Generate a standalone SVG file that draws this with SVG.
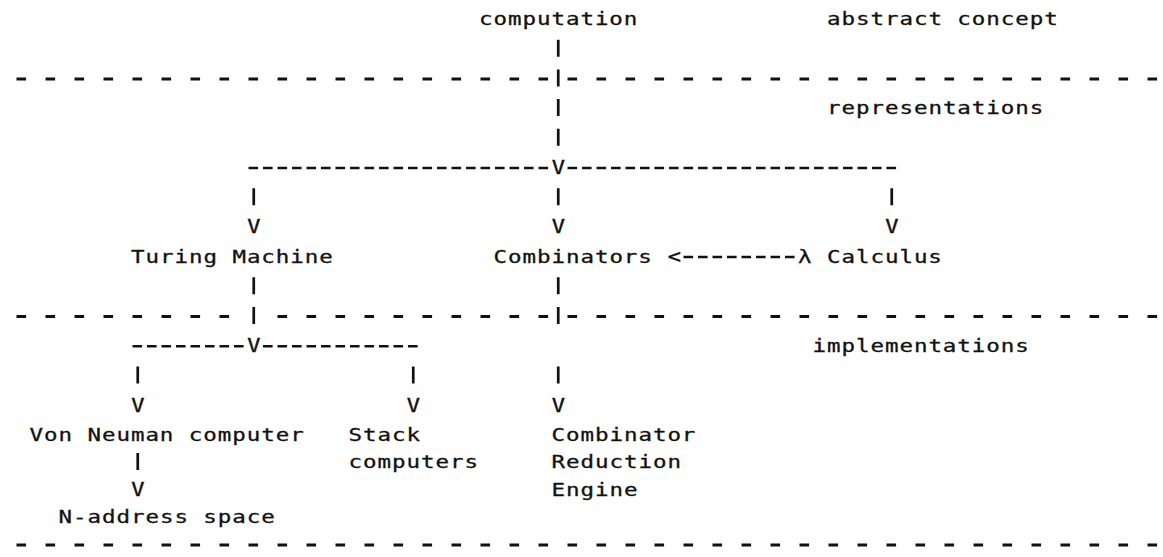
<svg xmlns="http://www.w3.org/2000/svg" width="1163" height="557" viewBox="0 0 1163 557">
  <style>
    /* 80-column printout: 14.5px per column, glyphs widened to fill the cell */
    .t { font-family: "DejaVu Sans Mono", "Liberation Mono", monospace; font-size: 18px; fill: #111; stroke: #111; stroke-width: 0.3px; letter-spacing: 0.76px; }
    .a { font-family: "DejaVu Sans Mono", "Liberation Mono", monospace; font-size: 20px; fill: #111; stroke: #111; stroke-width: 0.4px; text-anchor: middle; }
    .bar { stroke: #111; stroke-width: 2.7; fill: none; }
    .sep { stroke: #111; stroke-width: 3; stroke-dasharray: 9.6 19.4; fill: none; }
    .run { stroke: #111; stroke-width: 2.5; stroke-dasharray: 9.6 4.9; fill: none; }
  </style>
  <rect width="1163" height="557" fill="#fff"/>

  <!-- layer separators -->
  <g id="separators">
    <line class="sep" x1="16.5" y1="78.9" x2="1157.1" y2="78.9"/>
    <line class="sep" x1="16.5" y1="316.5" x2="229.1" y2="316.5"/>
    <line class="sep" x1="277.5" y1="316.5" x2="1157.1" y2="316.5"/>
    <line class="sep" x1="16.5" y1="545" x2="1157.1" y2="545"/>
  </g>

  <!-- layer labels -->
  <g id="layer-labels">
    <text class="t" transform="translate(827 25) scale(1.25 1)">abstract concept</text>
    <text class="t" transform="translate(827 114.1) scale(1.25 1)">representations</text>
    <text class="t" transform="translate(812.5 351.7) scale(1.25 1)">implementations</text>
  </g>

  <!-- connectors -->
  <g id="connectors">
    <path class="bar" d="M558.25 39.7V56.7 M558.25 69.4V86.4 M558.25 99.1V116.1 M558.25 128.8V145.8
                         M253.75 188.2V205.2 M558.25 188.2V205.2 M891.75 188.2V205.2
                         M253.75 277.3V294.3 M558.25 277.3V294.3
                         M253.75 307V324 M558.25 307V324
                         M137.75 366.4V383.4 M413.25 366.4V383.4 M558.25 366.4V383.4
                         M137.75 453V470"/>
    <!-- split under computation -->
    <line class="run" x1="248.5" y1="168" x2="548.1" y2="168"/>
    <line class="run" x1="567.5" y1="168" x2="896.1" y2="168"/>
    <text class="a" transform="translate(558.25 174) scale(1.1 1)">V</text>
    <text class="a" transform="translate(253.75 233.4) scale(1.1 1)">V</text>
    <text class="a" transform="translate(558.25 233.4) scale(1.1 1)">V</text>
    <text class="a" transform="translate(891.75 233.4) scale(1.1 1)">V</text>
    <!-- lambda calculus to combinators -->
    <text class="a" transform="translate(674.25 262.6) scale(1.1 1)">&lt;</text>
    <line class="run" x1="683.5" y1="257.1" x2="795.6" y2="257.1"/>
    <!-- split under Turing Machine -->
    <line class="run" x1="132.5" y1="346.2" x2="243.6" y2="346.2"/>
    <line class="run" x1="263" y1="346.2" x2="417.6" y2="346.2"/>
    <text class="a" transform="translate(253.75 352.2) scale(1.1 1)">V</text>
    <text class="a" transform="translate(137.75 411.6) scale(1.1 1)">V</text>
    <text class="a" transform="translate(413.25 411.6) scale(1.1 1)">V</text>
    <text class="a" transform="translate(558.25 411.6) scale(1.1 1)">V</text>
    <text class="a" transform="translate(137.75 496) scale(1.1 1)">V</text>
  </g>

  <!-- nodes -->
  <g id="computation"><text class="t" transform="translate(479 25) scale(1.25 1)">computation</text></g>
  <g id="turing-machine"><text class="t" transform="translate(131 262.6) scale(1.25 1)">Turing Machine</text></g>
  <g id="combinators"><text class="t" transform="translate(493.5 262.6) scale(1.25 1)">Combinators</text></g>
  <g id="lambda-calculus"><text class="t" transform="translate(798 262.6) scale(1.25 1)">λ Calculus</text></g>
  <g id="von-neuman"><text class="t" transform="translate(29.5 440.8) scale(1.25 1)">Von Neuman computer</text></g>
  <g id="stack-computers">
    <text class="t" transform="translate(348.5 440.8) scale(1.25 1)">Stack</text>
    <text class="t" transform="translate(348.5 468) scale(1.25 1)">computers</text>
  </g>
  <g id="combinator-reduction-engine">
    <text class="t" transform="translate(551.5 440.8) scale(1.25 1)">Combinator</text>
    <text class="t" transform="translate(551.5 468) scale(1.25 1)">Reduction</text>
    <text class="t" transform="translate(551.5 495.5) scale(1.25 1)">Engine</text>
  </g>
  <g id="n-address-space"><text class="t" transform="translate(58.5 523) scale(1.25 1)">N-address space</text></g>
</svg>
